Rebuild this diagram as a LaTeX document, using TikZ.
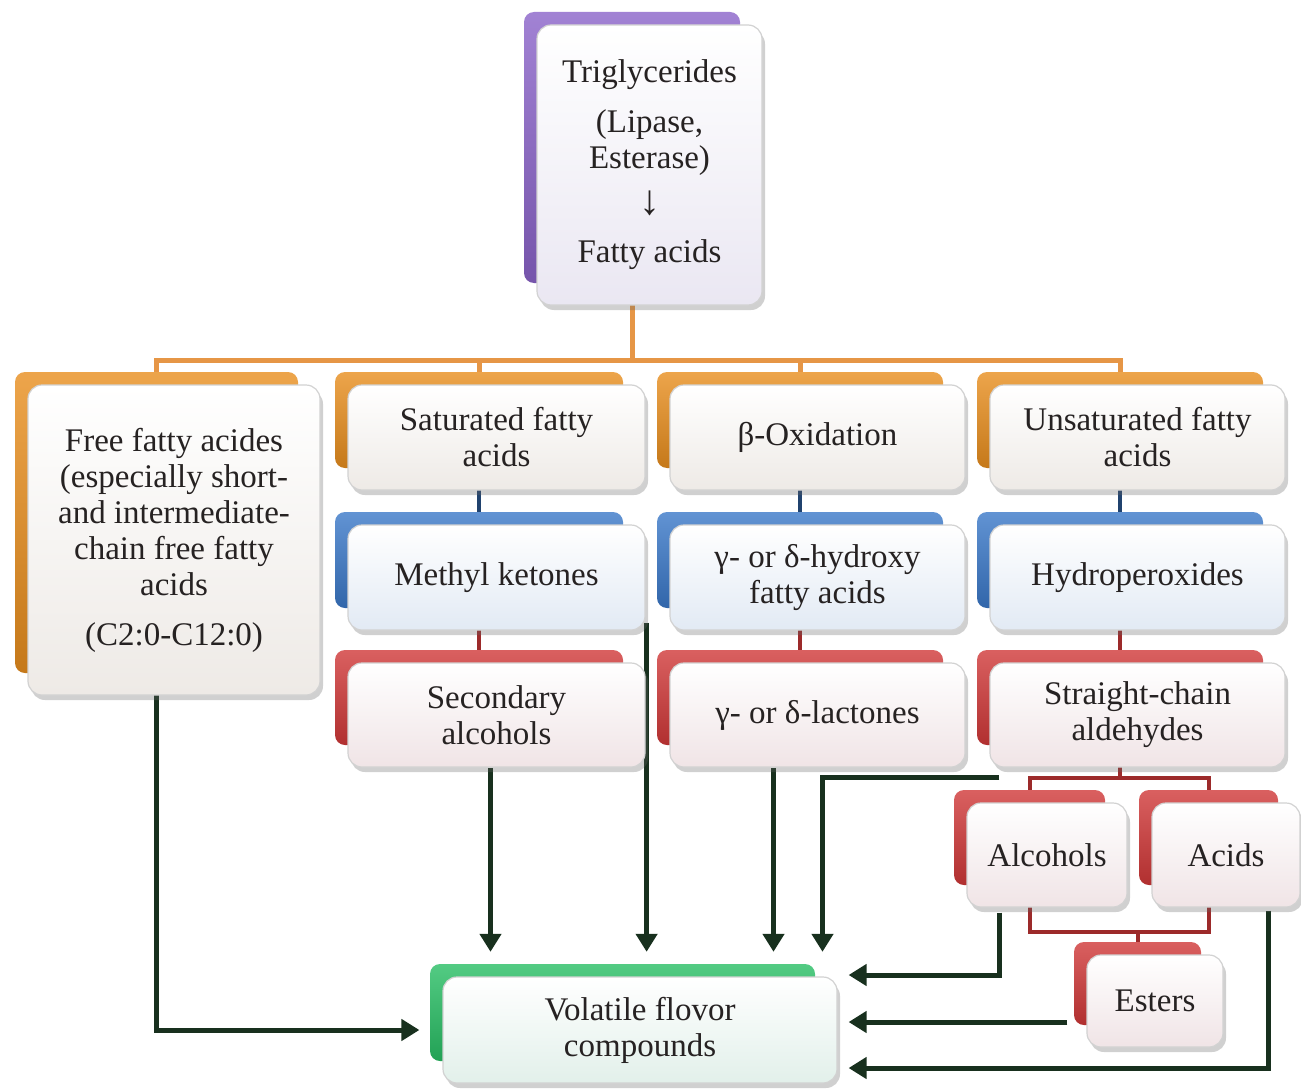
\documentclass[tikz,border=0pt]{standalone}
\usepackage{fontspec}
\setmainfont{Liberation Serif}
\usetikzlibrary{arrows.meta,shadows,calc,backgrounds}
\definecolor{cpurple}{RGB}{138,99,201}
\definecolor{corange}{RGB}{232,142,30}
\definecolor{cblue}{RGB}{58,120,200}
\definecolor{cred}{RGB}{208,56,56}
\definecolor{cgreen}{RGB}{40,190,100}
\definecolor{arrowc}{RGB}{24,48,30}
\definecolor{txt}{RGB}{38,34,34}
\definecolor{tpurple}{RGB}{234,231,242}
\definecolor{torange}{RGB}{238,234,230}
\definecolor{tblue}{RGB}{226,234,244}
\definecolor{tred}{RGB}{240,228,230}
\definecolor{tgreen}{RGB}{226,240,234}
\tikzset{
 cardfront/.style={draw=gray!35, line width=1.2pt, rounded corners=14pt,
   top color=white, bottom color=#1,
   drop shadow={shadow xshift=3pt, shadow yshift=-5pt, opacity=0.3, fill=black!60},
   align=center, text=txt, font=\fontsize{33}{36}\selectfont, inner sep=0pt},
 cardback/.style={rounded corners=10pt, top color=#1!80!white, bottom color=#1!85!black,
   draw=none, inner sep=0pt},
 oconn/.style={draw={rgb,255:red,230;green,150;blue,70}, line width=5pt},
 bconn/.style={draw=cblue!55!black, line width=4.5pt},
 rconn/.style={draw=cred!75!black, line width=4pt},
 arr/.style={draw=arrowc, line width=5pt, -{Triangle[length=18pt,width=21pt]}},
}
\newcommand\card[8]{%
 \node[cardback=#2, minimum width={#6-#4-9}, minimum height={#7-#5-9}] (#1b)
   at ({(#4+#6)/2-17.5},{(#5+#7)/2-17.5}) {};
 \node[cardfront=#3, minimum width={#6-#4}, minimum height={#7-#5}] (#1)
   at ({(#4+#6)/2},{(#5+#7)/2}) {#8};
}
\begin{document}
\begin{tikzpicture}[x=1pt,y=-1pt]
\useasboundingbox (0,0) rectangle (1301,1089);
\card{tri}{cpurple}{tpurple}{537}{25}{762}{305}{Triglycerides\\[14pt](Lipase,\\Esterase)\\[10pt]{\fontsize{42}{42}\selectfont ↓}\\[12pt]Fatty acids}
\card{ffa}{corange}{torange}{28}{385}{320}{695}{Free fatty acides\\(especially short-\\and intermediate-\\chain free fatty\\acids\\[14pt](C2:0-C12:0)}
\card{sat}{corange}{torange}{348}{385}{645}{490}{Saturated fatty\\acids}
\card{bet}{corange}{torange}{670}{385}{965}{490}{β-Oxidation}
\card{uns}{corange}{torange}{990}{385}{1285}{490}{Unsaturated fatty\\acids}
\card{meth}{cblue}{tblue}{348}{525}{645}{630}{Methyl ketones}
\card{gam}{cblue}{tblue}{670}{525}{965}{630}{γ- or δ-hydroxy\\fatty acids}
\card{hyd}{cblue}{tblue}{990}{525}{1285}{630}{Hydroperoxides}
\card{sec}{cred}{tred}{348}{663}{645}{767}{Secondary\\alcohols}
\card{lac}{cred}{tred}{670}{663}{965}{767}{γ- or δ-lactones}
\card{ald}{cred}{tred}{990}{663}{1285}{767}{Straight-chain\\aldehydes}
\card{alc}{cred}{tred}{967}{803}{1127}{907}{Alcohols}
\card{aci}{cred}{tred}{1152}{803}{1300}{907}{Acids}
\card{est}{cred}{tred}{1087}{955}{1223}{1047}{Esters}
\card{vol}{cgreen}{tgreen}{443}{977}{837}{1083}{Volatile flovor\\compounds}
\begin{scope}[on background layer]
 \fill[white] (0,0) rectangle (1301,1089);
 \coordinate (bus) at (0,360);
 \coordinate (bus2) at (0,778);
 \coordinate (bus3) at (0,932);
 \draw[oconn] (trib.south) -- (trib.south |- bus);
 \draw[oconn] (ffab.north) -- (ffab.north |- bus) -- (unsb.north |- bus) -- (unsb.north);
 \draw[oconn] (satb.north |- bus) -- (satb.north);
 \draw[oconn] (betb.north |- bus) -- (betb.north);
 \draw[bconn] (satb.south) -- (methb.north);
 \draw[bconn] (betb.south) -- (gamb.north);
 \draw[bconn] (unsb.south) -- (hydb.north);
 \draw[rconn] (methb.south) -- (secb.north);
 \draw[rconn] (gamb.south) -- (lacb.north);
 \draw[rconn] (hydb.south) -- (aldb.north);
 \draw[rconn] (aldb.south) -- (aldb.south |- bus2);
 \draw[rconn] (alcb.north) -- (alcb.north |- bus2) -- (acib.north |- bus2) -- (acib.north);
 \draw[rconn] (alcb.south) -- (alcb.south |- bus3) -- (acib.south |- bus3) -- (acib.south);
 \draw[rconn] (estb.north |- bus3) -- (estb.north);
 % arrows into volatile compounds
 \draw[arr, shorten >=23pt] (ffab.south) |- (vol.west);
 \coordinate (a2) at ([xshift=-6pt]sec.south);
 \draw[arr, shorten >=12pt] (a2) -- (a2 |- volb.north);
 \coordinate (a3) at ($(meth.south east)+(1,-8)$);
 \draw[arr, shorten >=12pt] (a3) -- (a3 |- volb.north);
 \coordinate (a4) at ([xshift=-44pt]lac.south);
 \draw[arr, shorten >=12pt] (a4) -- (a4 |- volb.north);
 \coordinate (a5) at ($(ald.south west)+(10,10)$);
 \coordinate (l5) at ([xshift=5pt]lac.south);
 \draw[arr, shorten >=12pt] (a5) -| (l5 |- volb.north);
 \coordinate (a6) at ($(alc.south west)+(33,5)$);
 \coordinate (v6) at ($(vol.east)+(0,-55)$);
 \draw[arr, shorten >=11pt] (a6) |- (v6);
 \coordinate (a7) at ($(est.west)+(-19,21)$);
 \draw[arr, shorten >=11pt] (a7) -- (a7 -| vol.east);
 \coordinate (a8) at ($(aci.south east)+(-32,3)$);
 \coordinate (v8) at ($(vol.east)+(0,38)$);
 \draw[arr, shorten >=11pt] (a8) |- (v8);
\end{scope}
\end{tikzpicture}
\end{document}
